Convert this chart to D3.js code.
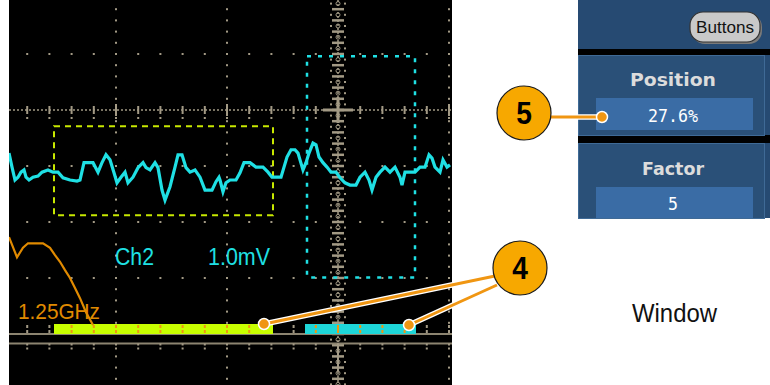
<!DOCTYPE html>
<html>
<head>
<meta charset="utf-8">
<script src="https://cdn.jsdelivr.net/npm/d3@7"></script>
<style>
  html, body { margin: 0; padding: 0; background: #fff; }
  svg { display: block; }
</style>
</head>
<body>
<svg id="chart" width="770" height="385"></svg>
<script>
// ---------------- DATA ----------------
// Ch2 acquisition: sample index across screen and amplitude (mV, 1.0 mV/div)
const sampleIdx = [0,3,6,9,12,15,17,20,24,29,33,39,44,49,54,61,68,71,75,79,84,89,93,97,101,105,108,112,116,119,124,129,134,137,141,146,149,153,156,161,166,169,173,177,181,186,191,196,203,207,210,211,214,217,221,227,231,235,241,247,254,259,263,267,272,275,278,282,286,289,291,294,297,300,304,307,310,314,318,322,327,331,336,341,347,351,356,360,363,367,371,376,381,386,391,393,396,401,406,411,416,420,423,426,431,434,438,441];
const ch2mV = [0.30,0.05,-0.18,-0.13,-0.04,0.00,-0.13,-0.18,-0.13,-0.11,-0.04,0.00,-0.04,-0.04,-0.14,-0.18,-0.20,-0.18,0.13,0.13,0.13,-0.04,0.13,0.27,0.18,-0.05,-0.23,-0.13,-0.04,-0.23,-0.13,0.04,0.13,0.04,0.00,0.13,0.04,-0.36,-0.54,-0.30,0.05,0.27,0.27,0.04,-0.04,0.00,-0.13,-0.36,-0.36,-0.21,-0.13,-0.18,-0.39,-0.23,-0.18,-0.18,-0.05,0.13,0.13,0.05,0.05,-0.04,-0.13,-0.13,-0.13,0.05,0.23,0.36,0.36,0.30,0.18,0.00,0.13,0.30,0.48,0.45,0.23,0.13,0.05,-0.04,-0.04,-0.14,-0.23,-0.27,-0.27,-0.13,-0.04,-0.18,-0.36,-0.13,-0.04,0.05,-0.04,0.05,-0.13,-0.27,-0.04,-0.04,-0.04,0.05,0.05,0.27,0.21,0.05,-0.04,0.18,0.05,0.09];
const ch2OffsetDiv = -1.07;

// Orange filter-response trace (divisions)
const respIdx = [0,8,14,19,34,41,46,51,56,61,66,71,77,84];
const respDiv = [-2.27,-2.63,-2.46,-2.38,-2.38,-2.46,-2.59,-2.71,-2.86,-3.0,-3.18,-3.36,-3.61,-3.84];

// Zoom windows (sample index ranges)
const zoomNames = ["Z1", "Z2"];
const zoomBarStart = [45, 296];
const zoomBarEnd = [264, 407];
const zoomBoxStart = [45, 298];
const zoomBoxEnd = [264, 406];
const zoomBoxTopDiv = [-0.29, 0.96];
const zoomBoxBottomDiv = [-1.88, -2.99];

// Graticule divisions
const gratX = [0, 1, 2, 3, 4];
const gratY = [-4, -3, -2, -1, 0, 1, 2];
const centerXDiv = 3;
const centerYDiv = 0;

// Panel texts
const panelLabels = ["Position", "Factor"];
const panelValues = ["27.6%", "5"];
const calloutNums = ["5", "4"];

// ---------------- SCALES ----------------
const svg = d3.select("#chart");
const xScale = d3.scaleLinear().domain([0, 441]).range([9, 450]);
const gx = d3.scaleLinear().domain([0, 4]).range([5, 449]);
const yScale = d3.scaleLinear().domain([-4, 2]).range([334, -2]);

const GRID = "#a39a85";
const CYAN = "#1fe0e4";
const ORANGE = "#f09612";

// ---------------- SCOPE AREA ----------------
svg.append("rect").attr("x", 9).attr("y", 0).attr("width", 443).attr("height", 385).attr("fill", "#000");
const defs = svg.append("defs");
defs.append("clipPath").attr("id", "scope").append("rect").attr("x", 9).attr("y", 0).attr("width", 443).attr("height", 385);
const scope = svg.append("g").attr("clip-path", "url(#scope)");
const grid = scope.append("g");

const minorX = d3.range(0, 4.001, 0.2);
const minorY = d3.range(-7, 2.001, 0.2);

gratX.filter(d => d !== centerXDiv).forEach(d => {
  grid.selectAll(null).data(minorY.filter(v => v > -3.9 || v < -4.3)).enter().append("rect")
    .attr("x", gx(d) - 1).attr("y", v => yScale(v) - 1).attr("width", 2).attr("height", 2).attr("fill", GRID);
});
gratY.filter(v => v !== centerYDiv && v > -4 && v < 2).forEach(v => {
  grid.selectAll(null).data(minorX).enter().append("rect")
    .attr("x", d => gx(d) - 1).attr("y", yScale(v) - 1).attr("width", 2).attr("height", 2).attr("fill", GRID);
});
const isMajor = d => Math.abs(d - Math.round(d)) < 0.01;
grid.append("line").attr("x1", 9).attr("x2", 452).attr("y1", yScale(0)).attr("y2", yScale(0))
  .attr("stroke", GRID).attr("stroke-width", 1.5).attr("stroke-dasharray", "2,2");
grid.selectAll(null).data(minorX).enter().append("line")
  .attr("x1", d => gx(d)).attr("x2", d => gx(d))
  .attr("y1", d => yScale(0) - (isMajor(d) ? 6 : 4))
  .attr("y2", d => yScale(0) + (isMajor(d) ? 6 : 4))
  .attr("stroke", GRID).attr("stroke-width", 2);
grid.selectAll(null).data(minorX).enter().append("rect")
  .attr("x", d => gx(d) - 1).attr("y", yScale(0) + 7).attr("width", 2).attr("height", 2).attr("fill", GRID);
const cx = gx(centerXDiv);
grid.append("line").attr("x1", cx).attr("x2", cx).attr("y1", 0).attr("y2", 385)
  .attr("stroke", GRID).attr("stroke-width", 1.5).attr("stroke-dasharray", "2,2");
grid.selectAll(null).data(minorY).enter().append("line")
  .attr("x1", cx - 6).attr("x2", cx + 6).attr("y1", v => yScale(v)).attr("y2", v => yScale(v))
  .attr("stroke", GRID).attr("stroke-width", 2.5);
grid.selectAll(null).data(minorY).enter().append("g").each(function(v) {
  const yy = yScale(v) + 5.6;
  const g = d3.select(this);
  g.append("rect").attr("x", cx - 8).attr("y", yy - 1).attr("width", 2).attr("height", 2).attr("fill", GRID);
  g.append("rect").attr("x", cx + 6).attr("y", yy - 1).attr("width", 2).attr("height", 2).attr("fill", GRID);
  g.append("circle").attr("cx", cx).attr("cy", yy).attr("r", 2).attr("fill", "none").attr("stroke", GRID).attr("stroke-width", 1);
});
grid.append("line").attr("x1", cx - 15).attr("x2", cx + 15).attr("y1", yScale(0)).attr("y2", yScale(0)).attr("stroke", GRID).attr("stroke-width", 3);
grid.append("line").attr("x1", cx).attr("x2", cx).attr("y1", yScale(0) - 13).attr("y2", yScale(0) + 13).attr("stroke", GRID).attr("stroke-width", 3);

const yb1 = yScale(-4), yb2 = yScale(-4) + 9.5;
grid.append("line").attr("x1", 9).attr("x2", 452).attr("y1", yb1).attr("y2", yb1).attr("stroke", "#8c8470").attr("stroke-width", 2);
grid.append("line").attr("x1", 9).attr("x2", 452).attr("y1", yb2).attr("y2", yb2).attr("stroke", "#8c8470").attr("stroke-width", 2);
grid.selectAll(null).data(minorX).enter().append("line")
  .attr("x1", d => gx(d)).attr("x2", d => gx(d)).attr("y1", yb2).attr("y2", yb2 + 7)
  .attr("stroke", GRID).attr("stroke-width", 2).attr("stroke-dasharray", "2,2");
grid.selectAll(null).data(minorX).enter().append("line")
  .attr("x1", d => gx(d)).attr("x2", d => gx(d)).attr("y1", yb1 - 9).attr("y2", yb1 - 1)
  .attr("stroke", GRID).attr("stroke-width", 2).attr("stroke-dasharray", "3,2");
grid.append("line").attr("x1", cx).attr("x2", cx).attr("y1", yb2).attr("y2", yb2 + 28).attr("stroke", GRID).attr("stroke-width", 2);

// zoom boxes (dashed)
const boxColors = ["#c8e800", CYAN];
zoomNames.forEach((n, i) => {
  const x0 = xScale(zoomBoxStart[i]), x1 = xScale(zoomBoxEnd[i]);
  const y0 = yScale(zoomBoxTopDiv[i]), y1 = yScale(zoomBoxBottomDiv[i]);
  scope.append("rect").attr("x", x0).attr("y", y0).attr("width", x1 - x0).attr("height", y1 - y0)
    .attr("fill", "none").attr("stroke", boxColors[i]).attr("stroke-width", i === 0 ? 2 : 2.5)
    .attr("stroke-dasharray", i === 0 ? "6,5" : "4,7");
});

// zoom bars
zoomNames.forEach((n, i) => {
  const x0 = xScale(zoomBarStart[i]), x1 = xScale(zoomBarEnd[i]);
  scope.append("rect").attr("x", x0).attr("y", yb1 - 10).attr("width", x1 - x0).attr("height", 10)
    .attr("fill", i === 0 ? "#c8ff00" : "#1ed6d8");
  scope.selectAll(null).data(minorX.filter(d => gx(d) > x0 + 2 && gx(d) < x1 - 2)).enter().append("line")
    .attr("x1", d => gx(d)).attr("x2", d => gx(d)).attr("y1", yb1 - 9).attr("y2", yb1 - 1)
    .attr("stroke", ORANGE).attr("stroke-width", 2)
    .attr("stroke-dasharray", d => Math.abs(d - centerXDiv) < 0.01 ? null : "3,2");
});

// orange response trace
scope.append("path").datum(respIdx.map((d, i) => [d, respDiv[i]]))
  .attr("d", d3.line().x(d => xScale(d[0])).y(d => yScale(d[1])))
  .attr("fill", "none").attr("stroke", "#e08a00").attr("stroke-width", 2.2);

// Ch2 waveform
scope.append("path").datum(sampleIdx.map((d, i) => [d, ch2mV[i] + ch2OffsetDiv]))
  .attr("d", d3.line().x(d => xScale(d[0])).y(d => yScale(d[1])))
  .attr("fill", "none").attr("stroke", CYAN).attr("stroke-width", 3.2).attr("stroke-linejoin", "miter");

// scope texts
const sfont = "'Liberation Sans Narrow', 'Arial Narrow', 'Liberation Sans', sans-serif";
scope.append("text").attr("x", 115).attr("y", 265).attr("fill", CYAN).attr("font-family", sfont)
  .attr("font-size", 23).attr("textLength", 39).attr("lengthAdjust", "spacingAndGlyphs").text("Ch2");
scope.append("text").attr("x", 208).attr("y", 265).attr("fill", CYAN).attr("font-family", sfont)
  .attr("font-size", 23).attr("textLength", 62).attr("lengthAdjust", "spacingAndGlyphs").text("1.0mV");
scope.append("text").attr("x", 18).attr("y", 319).attr("fill", "#e08a00").attr("font-family", sfont)
  .attr("font-size", 22).attr("textLength", 82).attr("lengthAdjust", "spacingAndGlyphs").text("1.25GHz");

// ---------------- RIGHT PANEL ----------------
const panel = svg.append("g");
panel.append("rect").attr("x", 578).attr("y", 0).attr("width", 192).attr("height", 218).attr("fill", "#264a72");
panel.append("rect").attr("x", 578).attr("y", 49).attr("width", 192).attr("height", 6).attr("fill", "#000");
panel.append("rect").attr("x", 578).attr("y", 135).attr("width", 192).attr("height", 8).attr("fill", "#000");
[[55, 80], [143, 75]].forEach(([y, h]) => {
  panel.append("rect").attr("x", 578.5).attr("y", y + 0.5).attr("width", 186).attr("height", h)
    .attr("fill", "#2a5078").attr("stroke", "#3f6a96").attr("stroke-width", 1);
});
panel.append("rect").attr("x", 692).attr("y", 14).attr("width", 70).attr("height", 30).attr("rx", 13)
  .attr("fill", "#7a7a7a");
panel.append("rect").attr("x", 690).attr("y", 12).attr("width", 70).attr("height", 30).attr("rx", 13)
  .attr("fill", "#c9c9c9").attr("stroke", "#333").attr("stroke-width", 1.2);
panel.append("text").attr("x", 725).attr("y", 33).attr("text-anchor", "middle").attr("fill", "#111")
  .attr("font-family", sfont).attr("font-size", 16).attr("textLength", 58).attr("lengthAdjust", "spacingAndGlyphs").text("Buttons");

const labelY = [86, 175];
const boxY = [98, 187];
const boxH = [32, 31];
const valueY = [122, 210];
panelLabels.forEach((lab, i) => {
  panel.append("text").attr("x", 673).attr("y", labelY[i]).attr("text-anchor", "middle")
    .attr("fill", "#dcdcdc").attr("font-family", "'DejaVu Sans', sans-serif").attr("font-weight", "bold")
    .attr("font-size", 18).attr("textLength", i === 0 ? 86 : 62).attr("lengthAdjust", "spacingAndGlyphs").text(lab);
  panel.append("rect").attr("x", 596).attr("y", boxY[i]).attr("width", 157).attr("height", boxH[i]).attr("fill", "#3a6ca5");
  panel.append("text").attr("x", 673).attr("y", valueY[i]).attr("text-anchor", "middle")
    .attr("fill", "#ffffff").attr("font-family", "'DejaVu Sans Mono', monospace")
    .attr("font-size", 18).attr("textLength", i === 0 ? 50 : 10).attr("lengthAdjust", "spacingAndGlyphs").text(panelValues[i]);
});

// ---------------- CALLOUTS ----------------
const ann = svg.append("g");
function connector(x1, y1, x2, y2) {
  ann.append("line").attr("x1", x1).attr("y1", y1).attr("x2", x2).attr("y2", y2).attr("stroke", "#fff").attr("stroke-width", 5.5);
  ann.append("line").attr("x1", x1).attr("y1", y1).attr("x2", x2).attr("y2", y2).attr("stroke", ORANGE).attr("stroke-width", 3);
}
function dot(x, y) {
  ann.append("circle").attr("cx", x).attr("cy", y).attr("r", 5.5).attr("fill", ORANGE).attr("stroke", "#fff").attr("stroke-width", 1.5);
}
function bubble(x, y, t) {
  ann.append("circle").attr("cx", x).attr("cy", y).attr("r", 27).attr("fill", "#f7a800").attr("stroke", "#1a1a1a").attr("stroke-width", 1.2);
  ann.append("text").attr("transform", `translate(${x},${y + 11}) scale(0.88,1)`).attr("text-anchor", "middle").attr("fill", "#000")
    .attr("font-family", "'Liberation Sans', sans-serif").attr("font-weight", "bold")
    .attr("font-size", 32).text(t);
}
connector(550, 117, 602, 117);
dot(602, 117);
bubble(524, 113, calloutNums[0]);

connector(495, 276, 264, 324);
connector(497, 285, 409, 325);
dot(264, 324);
dot(409, 325);
bubble(520, 268, calloutNums[1]);

svg.append("text").attr("x", 632).attr("y", 322).attr("fill", "#111")
  .attr("font-family", "'Liberation Sans', sans-serif").attr("font-size", 26)
  .attr("textLength", 85).attr("lengthAdjust", "spacingAndGlyphs").text("Window");
</script>
</body>
</html>
